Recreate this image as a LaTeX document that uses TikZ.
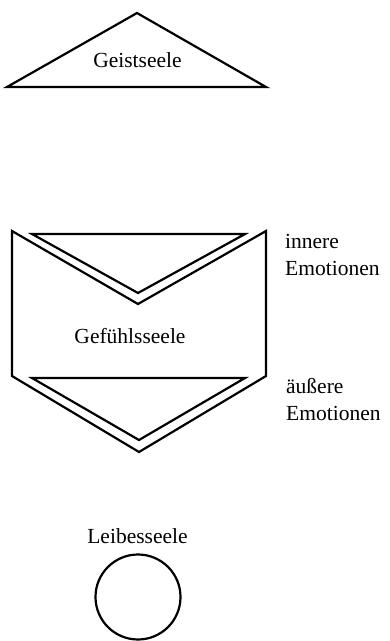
\documentclass[tikz,border=0pt]{standalone}
\usepackage{fontspec}
\setmainfont{Liberation Serif}
\begin{document}
\begin{tikzpicture}[x=1pt,y=-1pt,
  shapeline/.style={draw=black,line width=2.2pt,line join=miter},
  lbl/.style={inner sep=0pt,font=\fontsize{21.5}{24}\selectfont},
  soul/.style={lbl,anchor=base},
  side/.style={lbl,anchor=base west}]
\useasboundingbox (0,0) rectangle (389,641);
% Geistseele triangle
\draw[shapeline] (7,87) -- (137,13) -- (266,87) -- cycle;
\node[soul] (geist) at (137.5,67) {Geistseele};
% Gefuehlsseele shape
\draw[shapeline] (12,231) -- (138,304) -- (266,231) -- (266,376) -- (139,452) -- (12,376) -- cycle;
\draw[shapeline] (32,234) -- (245,234) -- (138,293) -- cycle;
\draw[shapeline] (32,378) -- (245,378) -- (139,440) -- cycle;
\node[soul] (gefuehl) at (130,343) {Gefühlsseele};
\node[side] (inner1) at (285,248) {innere};
\node[side] (inner2) at (285,275) {Emotionen};
\node[side] (outer1) at (286,393) {äußere};
\node[side] (outer2) at (286,420) {Emotionen};
% Leibesseele
\node[soul] (leib) at (137.5,543) {Leibesseele};
\node[draw=black,line width=2.2pt,circle,minimum size=85pt,inner sep=0pt] (leibcirc) at (138,597) {};
\end{tikzpicture}
\end{document}
